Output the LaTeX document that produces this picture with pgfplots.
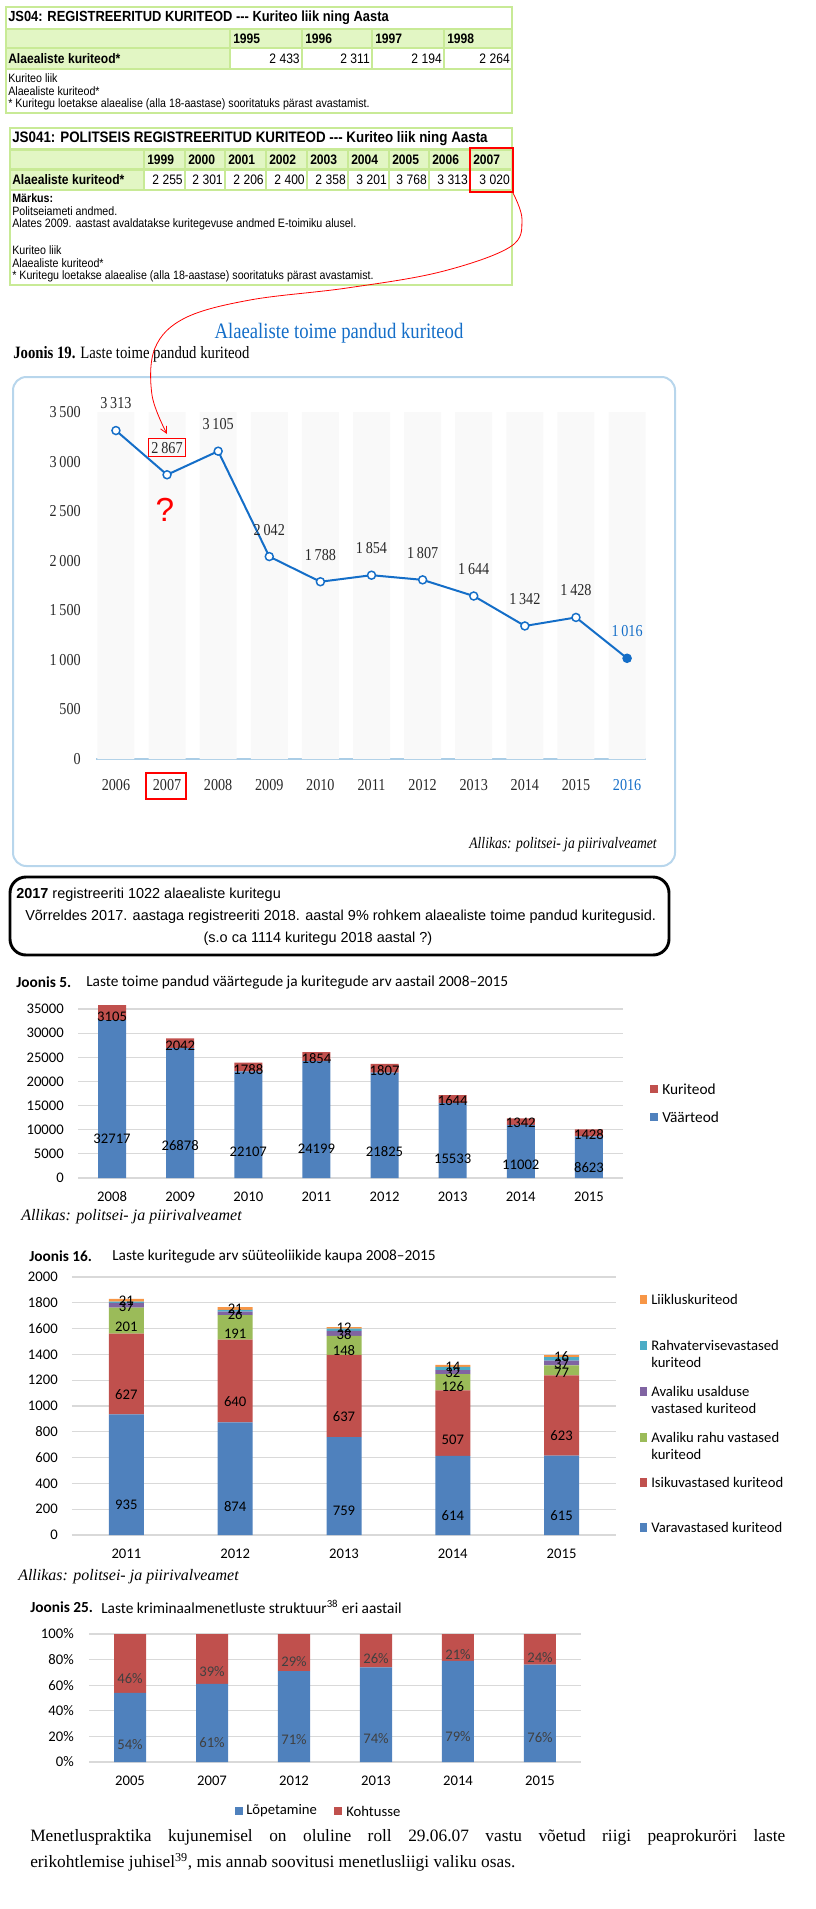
\documentclass[border=0pt]{standalone}
\usepackage{pgfplots}
\pgfplotsset{compat=1.18}
\usepackage{pgfplotstable}
\usepackage{fontspec}
\usetikzlibrary{arrows.meta}
\setmainfont{Liberation Serif}
\newfontfamily\tah[FakeStretch=0.88]{Liberation Sans}
\newfontfamily\mini[FakeStretch=0.85]{Liberation Serif}
\newfontfamily\arl{Liberation Sans}
\newfontfamily\calf{Carlito}
\newfontfamily\camb{Liberation Serif}
\newcommand\fs[1]{\fontsize{#1}{#1}\selectfont}

\definecolor{tgreen}{RGB}{200,234,150}
\definecolor{tfill}{RGB}{226,246,196}
\definecolor{lblue}{RGB}{20,110,200}
\definecolor{boxblue}{RGB}{184,214,236}
\definecolor{stripe}{RGB}{249,249,249}
\definecolor{axblue}{RGB}{170,205,230}
\definecolor{txt}{RGB}{40,40,40}
\definecolor{xb}{HTML}{4F81BD}
\definecolor{xr}{HTML}{C0504D}
\definecolor{xg}{HTML}{9BBB59}
\definecolor{xp}{HTML}{8064A2}
\definecolor{xt}{HTML}{4BACC6}
\definecolor{xo}{HTML}{F79646}
\definecolor{gridc}{HTML}{D9D9D9}
\definecolor{lab}{HTML}{404040}

\pgfplotstableread{
year val bg
2006 3313 3500
2007 2867 3500
2008 3105 3500
2009 2042 3500
2010 1788 3500
2011 1854 3500
2012 1807 3500
2013 1644 3500
2014 1342 3500
2015 1428 3500
2016 1016 3500
}\Tnt

\pgfplotstableread{
x year v k
0 2008 32717 3105
1 2009 26878 2042
2 2010 22107 1788
3 2011 24199 1854
4 2012 21825 1807
5 2013 15533 1644
6 2014 11002 1342
7 2015 8623 1428
}\Tfive

\pgfplotstableread{
x year vara isiku rahu usald rahvat liiklus
0 2011 935 627 201 37 10 21
1 2012 874 640 191 26 15 21
2 2013 759 637 148 38 18 12
3 2014 614 507 126 32 25 14
4 2015 615 623 77 37 27 16
}\Tsixteen

\pgfplotstableread{
x year lop koh
0 2005 54 46
1 2007 61 39
2 2012 71 29
3 2013 74 26
4 2014 79 21
5 2015 76 24
}\Ttwentyfive

\pgfplotsset{
  seglab/.style={point meta=explicit,
    visualization depends on={\thisrow{#1}/4\as\segv},
    every node near coord/.append style={anchor=center, inner sep=0pt,
      shift={(axis direction cs:0,-\segv)}}},
  xlsaxis/.style={anchor=south west, scale only axis, ybar stacked,
    axis line style={draw=none}, tick style={draw=none},
    ymajorgrids, grid style={gridc, line width=0.9pt},
    scaled y ticks=false,
    ticklabel style={font=\calf\fs{11}, inner sep=0pt},
    xticklabel style={anchor=center, yshift=-14.25pt},
    /pgf/number format/1000 sep={}, /pgf/number format/assume math mode=true,
    every node near coord/.append style={font=\calf\fs{11}, text=black}},
  lab19/.style={draw=none, point meta=explicit,
    nodes near coords={\pgfmathprintnumber[1000 sep={\,}]{\pgfplotspointmeta}},
    every node near coord/.append style={anchor=center, yshift=20.25pt, font=\mini\fs{12.5}, text=txt, line width=0.8pt, inner sep=2.5pt}},
}

\begin{document}
\begin{tikzpicture}[x=0.75pt, y=-0.75pt, every node/.style={inner sep=0pt}]
\path[use as bounding box] (0,0) rectangle (816,1909);
\coordinate (A19) at (96,759);
\coordinate (A5) at (78,1178);
\coordinate (A16) at (72,1535);
\coordinate (A25) at (89,1762);

% ---------- Table JS04 ----------
\fill[tgreen] (5,6) rectangle (513,114);
\fill[white] (7,8) rectangle (511,28);
\fill[tfill] (7,30) rectangle (229,47);
\fill[tfill] (7,49) rectangle (229,68);
\fill[white] (7,70) rectangle (511,112);
\foreach \a/\b/\yr/\v in {231/301/1995/2 433, 303/371/1996/2 311, 373/443/1997/2 194, 445/511/1998/2 264}{
  \fill[tfill] (\a,30) rectangle (\b,47);
  \fill[white] (\a,49) rectangle (\b,68);
  \node[anchor=west] at (\a+2,38.5) {\tah\bfseries\fs{10.3}\yr};
  \node[anchor=east] at (\b-1,58.5) {\tah\fs{10.3}\v};
}
\node[anchor=west] at (8,17.5) {\tah\bfseries\fs{11}JS04: REGISTREERITUD KURITEOD --- Kuriteo liik ning Aasta};
\node[anchor=west] at (8,58.5) {\tah\bfseries\fs{10.3}Alaealiste kuriteod*};
\node[anchor=west] at (8,78) {\tah\fs{9.1}Kuriteo liik};
\node[anchor=west] at (8,91) {\tah\fs{9.1}Alaealiste kuriteod*};
\node[anchor=west] at (8,104) {\tah\fs{9.1}* Kuritegu loetakse alaealise (alla 18-aastase) sooritatuks pärast avastamist.};

% ---------- Table JS041 ----------
\fill[tgreen] (9,127) rectangle (513,286);
\fill[white] (11,129) rectangle (511,148);
\fill[tfill] (11,151) rectangle (143,168);
\fill[tfill] (11,171) rectangle (143,189);
\fill[white] (11,191) rectangle (511,284);
\foreach \a/\b/\yr/\v in {145/184/1999/2 255, 186/224/2000/2 301, 226/265/2001/2 206, 267/306/2002/2 400, 308/347/2003/2 358, 349/388/2004/3 201, 390/428/2005/3 768, 430/469/2006/3 313, 471/511/2007/3 020}{
  \fill[tfill] (\a,151) rectangle (\b,168);
  \fill[white] (\a,171) rectangle (\b,189);
  \node[anchor=west] at (\a+2,159.5) {\tah\bfseries\fs{10.3}\yr};
  \node[anchor=east] at (\b-1,180) {\tah\fs{10.3}\v};
}
\node[anchor=west] at (12,138.5) {\tah\bfseries\fs{11.4}JS041: POLITSEIS REGISTREERITUD KURITEOD --- Kuriteo liik ning Aasta};
\node[anchor=west] at (12,180) {\tah\bfseries\fs{10.3}Alaealiste kuriteod*};
\node[anchor=west] at (12,198) {\tah\bfseries\fs{9.1}Märkus:};
\node[anchor=west] at (12,211) {\tah\fs{9.1}Politseiameti andmed.};
\node[anchor=west] at (12,224) {\tah\fs{9.1}Alates 2009. aastast avaldatakse kuritegevuse andmed E-toimiku alusel.};
\node[anchor=west] at (12,250) {\tah\fs{9.1}Kuriteo liik};
\node[anchor=west] at (12,263) {\tah\fs{9.1}Alaealiste kuriteod*};
\node[anchor=west] at (12,276) {\tah\fs{9.1}* Kuritegu loetakse alaealise (alla 18-aastase) sooritatuks pärast avastamist.};
\draw[red, line width=0.8pt] (470,148) rectangle (513,192);

% ---------- Joonis 19 ----------
\node[lblue] at (339,333) {\mini\fs{16.5}Alaealiste toime pandud kuriteod};
\node[anchor=west] at (13,354) {\mini\fs{13}\textbf{Joonis 19.} Laste toime pandud kuriteod};
\draw[boxblue, line width=1.5pt, rounded corners=10pt] (13,377) rectangle (675,866);

\begin{axis}[at={(A19)}, anchor=south west, scale only axis,
  width=412.5pt, height=260.25pt,
  xmin=2005.61, xmax=2016.37, ymin=0, ymax=3500,
  axis lines*=left, y axis line style={draw=none},
  x axis line style={draw=axblue, line width=1.5pt}, tick style={draw=none},
  xtick={2006,2007,2008,2009,2010,2011,2012,2013,2014,2015,2016},
  xticklabels={2006,2007,2008,2009,2010,2011,2012,2013,2014,2015,\textcolor{lblue}{2016}},
  ytick={0,500,1000,1500,2000,2500,3000,3500},
  yticklabels={0,500,1\,000,1\,500,2\,000,2\,500,3\,000,3\,500},
  ticklabel style={font=\mini\fs{12.5}, text=txt, inner sep=0pt},
  yticklabel style={anchor=east, xshift=-11.25pt},
  xticklabel style={anchor=center, yshift=-19.5pt},
  /pgf/number format/assume math mode=true, clip=false]
\addplot[ybar, bar width=27.75pt, fill=stripe, draw=none] table[x=year,y=bg]{\Tnt};
\addplot[lblue, line width=1.5pt, mark=*, mark size=3pt,
  mark options={fill=white, draw=lblue, line width=1.1pt}] table[x=year,y=val]{\Tnt};
\addplot[only marks, mark=*, mark size=3pt, lblue, restrict x to domain=2016:2016] table[x=year,y=val]{\Tnt};
\addplot[lab19, restrict x to domain=2006:2006] table[x=year,y=val,meta=val]{\Tnt};
\addplot[lab19, restrict x to domain=2008:2015] table[x=year,y=val,meta=val]{\Tnt};
\addplot[lab19, restrict x to domain=2007:2007, every node near coord/.append style={draw=red}] table[x=year,y=val,meta=val]{\Tnt};
\addplot[lab19, restrict x to domain=2016:2016, every node near coord/.append style={text=lblue}] table[x=year,y=val,meta=val]{\Tnt};
\end{axis}
\node[red] at (165,510) {\arl\fs{25}?};
\draw[red, line width=0.8pt] (146,773) rectangle (186,799);
\draw[red, line width=0.6pt, -{Straight Barb[length=5pt,width=5pt]}] plot[smooth, tension=0.6] coordinates {(513,193) (522,220) (510,247) (440,272) (347,288) (250,300) (185,318) (155,348) (152,395) (167,434)};
\node[anchor=east] at (657,845) {\mini\itshape\fs{12}Allikas: politsei- ja piirivalveamet};

% ---------- black box ----------
\draw[black, line width=2.2pt, rounded corners=12pt] (10,877) rectangle (669,955);
\node[anchor=west] at (16,895) {\arl\fs{10.85}\textbf{2017} registreeriti 1022 alaealiste kuritegu};
\node[anchor=west] at (25,917) {\arl\fs{10.85}Võrreldes 2017. aastaga registreeriti 2018. aastal 9\% rohkem alaealiste toime pandud kuritegusid.};
\node at (318,939) {\arl\fs{10.85}(s.o ca 1114 kuritegu 2018 aastal ?)};

% ---------- Joonis 5 ----------
\node[anchor=west] at (16,982) {\calf\bfseries\fs{11.5}Joonis 5.};
\node[anchor=west] at (86,982) {\calf\fs{11.5}Laste toime pandud väärtegude ja kuritegude arv aastail 2008–2015};
\begin{axis}[xlsaxis, at={(A5)}, width=408.75pt, height=126.75pt,
  xmin=-0.5, xmax=7.5, ymin=0, ymax=35000, bar width=21pt, clip=false,
  ytick={0,5000,10000,15000,20000,25000,30000,35000},
  yticklabels={0,5000,10000,15000,20000,25000,30000,35000},
  yticklabel style={anchor=east, xshift=-10.5pt},
  xtick={0,1,2,3,4,5,6,7},
  xticklabels={2008,2009,2010,2011,2012,2013,2014,2015}]
\addplot[fill=xb, draw=none, nodes near coords, seglab=v] table[x=x,y=v,meta=v]{\Tfive};
\addplot[fill=xr, draw=none, nodes near coords, seglab=k] table[x=x,y=k,meta=k]{\Tfive};
\end{axis}
\fill[xr] (650,1085) rectangle (658,1093);
\node[anchor=west] at (662,1089) {\calf\fs{11.5}Kuriteod};
\fill[xb] (650,1113) rectangle (658,1121);
\node[anchor=west] at (662,1117) {\calf\fs{11.5}Väärteod};
\node[anchor=west] at (21,1217) {\camb\itshape\fs{12}Allikas: politsei- ja piirivalveamet};

% ---------- Joonis 16 ----------
\node[anchor=west] at (29,1256) {\calf\bfseries\fs{11.5}Joonis 16.};
\node[anchor=west] at (112,1256) {\calf\fs{11.5}Laste kuritegude arv süüteoliikide kaupa 2008–2015};
\begin{axis}[xlsaxis, at={(A16)}, width=408pt, height=193.5pt,
  xmin=-0.5, xmax=4.5, ymin=0, ymax=2000, bar width=26.25pt,
  ytick={0,200,400,600,800,1000,1200,1400,1600,1800,2000},
  yticklabels={0,200,400,600,800,1000,1200,1400,1600,1800,2000},
  yticklabel style={anchor=east, xshift=-10.5pt},
  xtick={0,1,2,3,4},
  xticklabels={2011,2012,2013,2014,2015}]
\addplot[fill=xb, draw=none, nodes near coords, seglab=vara] table[x=x,y=vara,meta=vara]{\Tsixteen};
\addplot[fill=xr, draw=none, nodes near coords, seglab=isiku] table[x=x,y=isiku,meta=isiku]{\Tsixteen};
\addplot[fill=xg, draw=none, nodes near coords, seglab=rahu] table[x=x,y=rahu,meta=rahu]{\Tsixteen};
\addplot[fill=xp, draw=none, nodes near coords, seglab=usald] table[x=x,y=usald,meta=usald]{\Tsixteen};
\addplot[fill=xt, draw=none] table[x=x,y=rahvat]{\Tsixteen};
\addplot[fill=xo, draw=none, nodes near coords, seglab=liiklus] table[x=x,y=liiklus,meta=liiklus]{\Tsixteen};
\end{axis}
\foreach \yy/\cc/\la/\lb in {1299/xo/Liikluskuriteod/, 1345/xt/Rahvatervisevastased/kuriteod, 1391/xp/Avaliku usalduse/vastased kuriteod, 1437/xg/Avaliku rahu vastased/kuriteod, 1482/xr/Isikuvastased kuriteod/, 1527/xb/Varavastased kuriteod/}{
  \fill[\cc] (640,\yy-4.5) rectangle (647,\yy+4.5);
  \node[anchor=west] at (651,\yy) {\calf\fs{11}\la};
  \node[anchor=west] at (651,\yy+17.5) {\calf\fs{11}\lb};
}
\node[anchor=west] at (18,1577) {\camb\itshape\fs{12}Allikas: politsei- ja piirivalveamet};

% ---------- Joonis 25 ----------
\node[anchor=west] at (30,1607) {\calf\bfseries\fs{11.5}Joonis 25.};
\node[anchor=west] at (101,1607) {\calf\fs{11.5}Laste kriminaalmenetluste struktuur\textsuperscript{38} eri aastail};
\begin{axis}[xlsaxis, at={(A25)}, width=369pt, height=96pt,
  xmin=-0.5, xmax=5.5, ymin=0, ymax=100, bar width=24pt,
  ytick={0,20,40,60,80,100},
  yticklabels={0\%,20\%,40\%,60\%,80\%,100\%},
  yticklabel style={anchor=east, xshift=-11.25pt},
  xtick={0,1,2,3,4,5},
  xticklabels={2005,2007,2012,2013,2014,2015},
  every node near coord/.append style={text=lab}]
\addplot[fill=xb, draw=none, nodes near coords={\pgfmathprintnumber{\pgfplotspointmeta}\%}, seglab=lop] table[x=x,y=lop,meta=lop]{\Ttwentyfive};
\addplot[fill=xr, draw=none, nodes near coords={\pgfmathprintnumber{\pgfplotspointmeta}\%}, seglab=koh] table[x=x,y=koh,meta=koh]{\Ttwentyfive};
\end{axis}
\fill[xb] (235,1807) rectangle (243,1815);
\node[anchor=west] at (246,1811) {\calf\fs{11}Lõpetamine};
\fill[xr] (334,1807) rectangle (342,1815);
\node[anchor=west] at (346,1811) {\calf\fs{11}Kohtusse};

\node[anchor=west] at (30,1837) {\camb\fs{13}\makebox[566.25pt][s]{Menetluspraktika kujunemisel on oluline roll 29.06.07 vastu võetud riigi peaprokuröri laste}};
\node[anchor=west] at (30,1862) {\camb\fs{13}erikohtlemise juhisel\textsuperscript{39}, mis annab soovitusi menetlusliigi valiku osas.};
\end{tikzpicture}
\end{document}
